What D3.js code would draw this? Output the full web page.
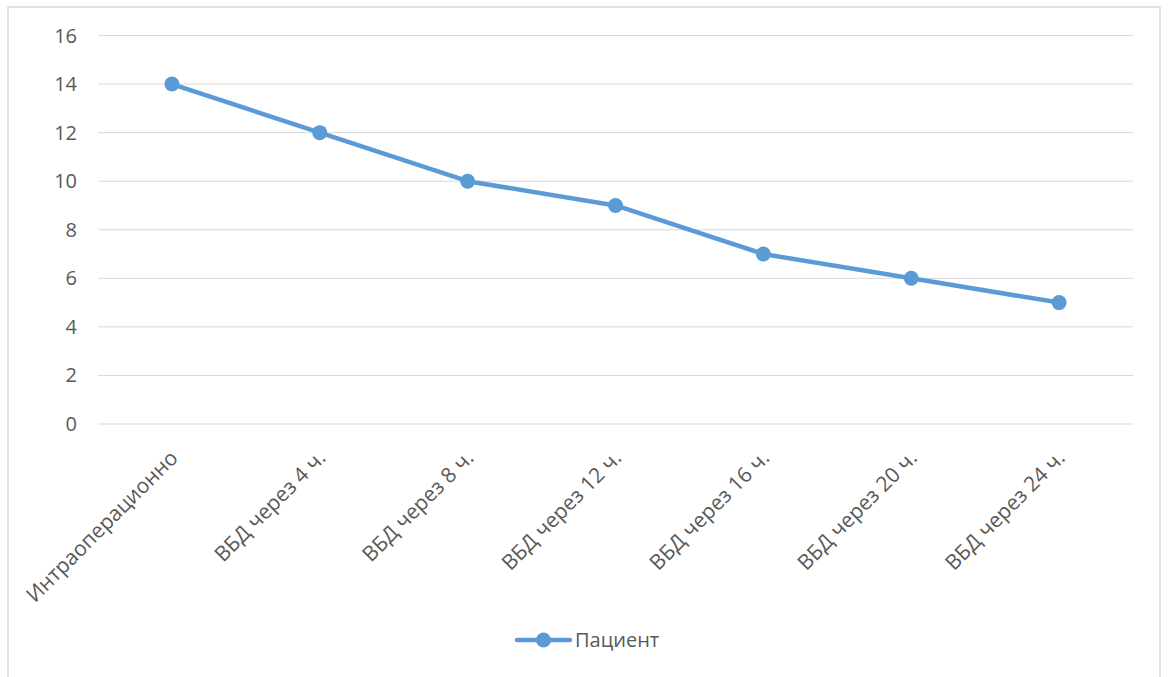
<!DOCTYPE html>
<html>
<head>
<meta charset="utf-8">
<script src="https://cdn.jsdelivr.net/npm/d3@7"></script>
<style>
  body { margin: 0; background: #fff; }
  svg { display: block; font-family: "Open Sans", "Noto Sans", sans-serif; }
</style>
</head>
<body>
<svg id="chart" width="1168" height="677"></svg>
<script>
const categories = ["Интраоперационно", "ВБД через 4 ч.", "ВБД через 8 ч.", "ВБД через 12 ч.",
    "ВБД через 16 ч.", "ВБД через 20 ч.", "ВБД через 24 ч."];
const values = [14, 12, 10, 9, 7, 6, 5];
const yTicks = [0, 2, 4, 6, 8, 10, 12, 14, 16];
const seriesName = "Пациент";

const svg = d3.select("#chart");
const color = "#5b9bd5";
const textColor = "#595959";
const fontSize = "20px";

// chart frame
svg.append("rect")
    .attr("x", 8).attr("y", 7)
    .attr("width", 1152).attr("height", 700)
    .attr("fill", "#fff")
    .attr("stroke", "#d9d9d9").attr("stroke-width", 1.5);

const plot = { left: 98, right: 1133, top: 35.5, bottom: 424 };

const x = d3.scalePoint()
    .domain(categories)
    .range([plot.left, plot.right])
    .padding(0.5);

const y = d3.scaleLinear()
    .domain([0, 16])
    .range([plot.bottom, plot.top]);

// gridlines
svg.append("g")
    .selectAll("line")
    .data(yTicks)
    .join("line")
    .attr("x1", plot.left).attr("x2", plot.right)
    .attr("y1", d => y(d)).attr("y2", d => y(d))
    .attr("stroke", "#d9d9d9").attr("stroke-width", 1);

// y labels
svg.append("g")
    .selectAll("text")
    .data(yTicks)
    .join("text")
    .attr("x", 77)
    .attr("y", d => y(d))
    .attr("dy", "0.35em")
    .attr("text-anchor", "end")
    .attr("fill", textColor)
    .style("font-size", fontSize)
    .text(d => d);

// x labels, rotated
svg.append("g")
    .selectAll("text")
    .data(categories)
    .join("text")
    .attr("transform", d => `translate(${x(d) + 2},${plot.bottom + 30}) rotate(-45)`)
    .attr("text-anchor", "end")
    .attr("dy", "0.35em")
    .attr("fill", textColor)
    .style("font-size", "21px")
    .text(d => d);

// line
const line = d3.line()
    .x((d, i) => x(categories[i]))
    .y(d => y(d));

svg.append("path")
    .datum(values)
    .attr("d", line)
    .attr("fill", "none")
    .attr("stroke", color)
    .attr("stroke-width", 4.5)
    .attr("stroke-linejoin", "round");

svg.append("g")
    .selectAll("circle")
    .data(values)
    .join("circle")
    .attr("cx", (d, i) => x(categories[i]))
    .attr("cy", d => y(d))
    .attr("r", 7.5)
    .attr("fill", color);

// legend
const legend = svg.append("g").attr("transform", "translate(517,640)");
legend.append("line")
    .attr("x1", 0).attr("x2", 53)
    .attr("stroke", color).attr("stroke-width", 4.5)
    .attr("stroke-linecap", "round");
legend.append("circle").attr("cx", 26.5).attr("r", 7.5).attr("fill", color);
legend.append("text")
    .attr("x", 58).attr("dy", "0.35em")
    .attr("fill", textColor)
    .style("font-size", fontSize)
    .text(seriesName);
</script>
</body>
</html>
